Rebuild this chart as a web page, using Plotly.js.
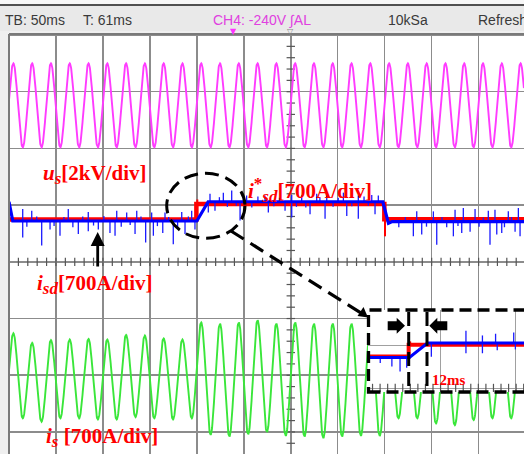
<!DOCTYPE html>
<html><head><meta charset="utf-8">
<script src="https://cdn.plot.ly/plotly-3.0.1.min.js"></script>
<style>html,body{margin:0;padding:0;background:#efefef;overflow:hidden}#chart{width:524px;height:454px}</style>
</head><body><div id="chart"></div>
<script>
// ===== data (time in ms, vertical values in scope divisions) =====
const halfPeriodMs = 10;
const firstPeakMs = 4.6;
// u_s (CH magenta): peak / trough per cycle
const usPeaks   = [3.50,3.50,3.50,3.50,3.50,3.50,3.50,3.50,3.50,3.50,3.50,3.50,3.50,3.50,3.50,3.50,3.50,3.50,3.50,3.50,3.50,3.50,3.50,3.50,3.50,3.50,3.50,3.50];
const usTroughs = [2.02,2.02,2.02,2.02,2.02,2.02,2.02,2.02,2.02,2.02,2.02,2.02,2.02,2.02,2.02,2.02,2.02,2.02,2.02,2.02,2.02,2.02,2.02,2.02,2.02,2.02,2.02,2.02];
// i_s (green): peak / trough per cycle
const isPeaks   = [-1.26,-1.43,-1.38,-1.37,-1.36,-1.37,-1.29,-1.30,-1.35,-1.37,-1.07,-1.09,-1.07,-1.03,-1.09,-1.07,-1.09,-1.09,-1.09,-1.08,-1.36,-1.36,-1.36,-1.36,-1.36,-1.36,-1.36,-1.36];
const isTroughs = [-2.76,-2.82,-2.76,-2.76,-2.78,-2.78,-2.74,-2.76,-2.78,-2.76,-3.05,-3.08,-3.04,-3.00,-3.07,-3.08,-3.11,-3.08,-3.07,-3.07,-2.76,-2.76,-2.85,-2.88,-2.79,-2.76,-2.76,-2.76];
// i_sd (blue) base level and spikes
const isdBaseT = [0, 4, 200, 212, 398, 404, 408, 548.3];
const isdBaseV = [1.06, 0.72, 0.72, 1.06, 1.06, 0.68, 0.71, 0.71];
const isdSpikeT = [14.6,14.6,24.2,34.8,43.7,54.3,63.1,73.8,84.4,84.4,95.1,107.5,112.9,114.7,125.3,134.2,136.0,145.5,151.9,153.7,163.7,166.1,174.9,183.9,187.4,194.5,198.0,
  212.2,214.0,219.3,228.2,237.1,246.0,253.0,272.6,276.1,293.9,301.0,301.0,311.6,320.5,327.6,336.5,338.3,356.0,359.6,371.9,371.9,386.2,389.7,393.2,
  430.5,434.1,439.4,451.8,455.4,473.1,474.9,482.0,483.7,490.9,496.2,510.3,512.1,517.4,519.3,524.6,531.6,538.8,542.3,544.1,
  19.0,29.5,48.0,58.5,68.0,78.5,90.0,101.0,119.5,129.0,140.5,158.0,170.0,179.5,191.0,
  224.0,232.5,242.0,258.5,265.0,282.0,288.0,306.0,316.0,331.0,345.0,350.5,365.0,378.0,382.5,
  415.0,422.0,444.5,461.0,466.0,478.0,500.5,505.0,527.5,535.0];
const isdSpikeV = [-0.29,0.21,0.18,-0.43,-0.15,-0.26,0.21,-0.23,-0.18,0.16,-0.15,-0.21,-0.26,0.18,0.15,-0.23,0.18,-0.38,0.15,-0.26,-0.21,0.15,-0.41,0.16,-0.23,0.18,-0.15,
  -0.19,0.14,-0.16,0.16,0.20,-0.33,0.11,0.11,-0.19,-0.16,0.12,-0.28,0.11,-0.22,0.14,-0.30,0.11,0.16,-0.25,0.11,-0.30,0.12,-0.22,0.11,
  -0.26,0.18,-0.23,0.18,-0.41,-0.26,0.21,-0.20,0.24,-0.18,0.22,0.19,-0.41,0.21,-0.23,-0.20,0.18,-0.18,0.24,-0.26,
  -0.10,0.08,-0.09,0.07,-0.11,0.08,-0.08,0.09,-0.10,-0.07,0.08,-0.09,0.07,-0.10,0.08,
  0.08,-0.09,-0.07,-0.10,0.09,-0.08,0.07,-0.09,-0.10,0.08,-0.09,0.07,-0.08,0.09,-0.07,
  -0.10,0.08,-0.09,0.08,-0.10,-0.08,-0.09,0.07,-0.10,0.08];
// i*_sd (red) reference
const isdRefT = [0, 199.5, 199.5, 399.6, 399.6, 548.3];
const isdRefV = [0.745, 0.745, 1.02, 1.02, 0.75, 0.75];
const isdRefSpikeT = [200.5, 400.3];
const isdRefSpikeV = [0.08, -0.30];
// zoomed inset (same channels, separate capture)
const zoomSpikeT = [180.7,188.4,193.8,198.2,214.5,237.4,237.4,248.3,248.3,257.0,258.1,269.0,270.1];
const zoomSpikeV = [-0.13,-0.21,-0.33,-0.24,-0.32,-0.24,0.29,-0.24,0.18,0.22,-0.17,0.25,-0.15];
// channel level markers
const channelLevels = [2.80, 0.0, -0.12, -2.01];
const channelColors = ['#ff33ff', '#ff2020', '#0000ff', '#33dd33'];

// ===== geometry helpers =====
const W = 524, H = 454, L = 9, T = 34, PW = W - L, PH = H - T;
const px = x => (x - L) / PW;
const py = y => (T + PH - y) / PH;
const xRange = [0, 548.3];
const yRange = [-3.389, 4.018];
const zxRange = [172.6, 275.8];
const zyRange = [-0.094, 1.84];

function wave(t, peaks, troughs) {
  const i = Math.floor((t - firstPeakMs) / halfPeriodMs);
  const ext = j => j < 0 ? troughs[0] : (j % 2 === 0 ? peaks[Math.min(j / 2, peaks.length - 1)] : troughs[Math.min((j - 1) / 2, troughs.length - 1)]);
  const a = ext(i), b = ext(i + 1);
  const ph = (t - (firstPeakMs + i * halfPeriodMs)) / halfPeriodMs;
  return (a + b) / 2 + (a - b) / 2 * Math.cos(Math.PI * ph);
}
function interp(TT, VV, t) {
  for (let k = 0; k < TT.length - 1; k++) {
    if (t <= TT[k + 1]) { const d = TT[k + 1] - TT[k]; return d <= 0 ? VV[k + 1] : VV[k] + (VV[k + 1] - VV[k]) * (t - TT[k]) / d; }
  }
  return VV[VV.length - 1];
}
function spikes(ts, vs, baseT, baseV) {
  const x = [], y = [];
  ts.forEach((t, k) => { const b = interp(baseT, baseV, t); x.push(t, t, null); y.push(b, b + vs[k], null); });
  return {x, y};
}

const tx = [], usY = [], isY = [];
for (let t = xRange[0]; t <= xRange[1]; t += 0.25) { tx.push(t); usY.push(wave(t, usPeaks, usTroughs)); isY.push(wave(t, isPeaks, isTroughs)); }

// axis minor ticks (scope graticule)
const tickX = [], tickY = [];
for (let t = 0; t <= xRange[1]; t += 10) tickX.push(t);
for (let v = -3.4; v <= 4.0; v += 0.2) tickY.push(+v.toFixed(2));
const zTickX = [];
for (let t = 220.6 - 45; t <= zxRange[1]; t += 5) if (t > zxRange[0]) zTickX.push(t);

const sp = spikes(isdSpikeT, isdSpikeV, isdBaseT, isdBaseV);
const spR = spikes(isdRefSpikeT, isdRefSpikeV, isdRefT, isdRefV);
const spZ = spikes(zoomSpikeT, zoomSpikeV, isdBaseT, isdBaseV);

const tickMk = {symbol: 'line-ns-open', size: 6, color: '#555', line: {color: '#555', width: 1.2}};
const traces = [
  {x: tickX, y: tickX.map(() => 0), mode: 'markers', marker: tickMk, hoverinfo: 'skip'},
  {x: tickY.map(() => 300), y: tickY, mode: 'markers', marker: Object.assign({}, tickMk, {symbol: 'line-ew-open'}), hoverinfo: 'skip'},
  {x: tx, y: isY, mode: 'lines', line: {color: '#3ae63a', width: 1.9}},
  {x: tx, y: usY, mode: 'lines', line: {color: '#ff3cff', width: 1.9}},
  {x: isdRefT, y: isdRefV, mode: 'lines', line: {color: '#ff0000', width: 4.5}},
  {x: spR.x, y: spR.y, mode: 'lines', line: {color: '#ff0000', width: 2}},
  {x: sp.x, y: sp.y, mode: 'lines', line: {color: '#1a1aff', width: 1.3}},
  {x: isdBaseT, y: isdBaseV, mode: 'lines', line: {color: '#0000ff', width: 3.2}},
  {x: channelLevels.map(() => -4.3), y: channelLevels, mode: 'markers', cliponaxis: false, marker: {symbol: 'triangle-right', size: 7, color: channelColors}},
  // inset
  {x: zTickX, y: zTickX.map(() => 0), xaxis: 'x2', yaxis: 'y2', mode: 'markers', marker: tickMk},
  {x: isdRefT, y: isdRefV, xaxis: 'x2', yaxis: 'y2', mode: 'lines', line: {color: '#ff0000', width: 4}},
  {x: spR.x, y: spR.y, xaxis: 'x2', yaxis: 'y2', mode: 'lines', line: {color: '#ff0000', width: 2}},
  {x: spZ.x, y: spZ.y, xaxis: 'x2', yaxis: 'y2', mode: 'lines', line: {color: '#1a1aff', width: 1.3}},
  {x: isdBaseT, y: isdBaseV, xaxis: 'x2', yaxis: 'y2', mode: 'lines', line: {color: '#0000ff', width: 3}}
];

const gridC = '#8c8c8c';
const red = '#ff0000';
const serif = {family: 'Liberation Serif, Times New Roman, serif', size: 21, color: red};
const stat = {family: 'Liberation Sans, Arial, sans-serif', size: 14, color: '#3a3a3a'};
const SUB = s => `<sub><span style="font-size:17px"><i>${s}</i></span></sub>`;
const SUP = s => `<sup><span style="font-size:17px">${s}</span></sup>`;
function ann(x, y, text, font, extra) {
  return Object.assign({xref: 'paper', yref: 'paper', x: px(x), y: py(y), text, font, showarrow: false, xanchor: 'left', yanchor: 'middle'}, extra || {});
}
const blockArrowR = (x0, xm, x1, yc) => `M${px(x0)},${py(yc - 4.5)} L${px(xm)},${py(yc - 4.5)} L${px(xm)},${py(yc - 8)} L${px(x1)},${py(yc)} L${px(xm)},${py(yc + 8)} L${px(xm)},${py(yc + 4.5)} L${px(x0)},${py(yc + 4.5)} Z`;

const layout = {
  width: W, height: H,
  margin: {l: L, r: 0, t: T, b: 0, pad: 0},
  paper_bgcolor: '#efefef', plot_bgcolor: '#ffffff',
  showlegend: false,
  xaxis: {range: xRange, tick0: 0, dtick: 50, showgrid: true, gridcolor: gridC, gridwidth: 1.5, showticklabels: false, ticks: '', zeroline: false, showline: false, fixedrange: true},
  yaxis: {range: yRange, tick0: 0, dtick: 1, showgrid: true, gridcolor: gridC, gridwidth: 1.5, showticklabels: false, ticks: '', zeroline: false, showline: false, fixedrange: true},
  xaxis2: {domain: [px(368), 1], anchor: 'y2', range: zxRange, tickvals: [220.6, 245.4, 270.2], showgrid: true, gridcolor: '#a0a0a0', gridwidth: 1, showticklabels: false, ticks: '', zeroline: false, showline: false},
  yaxis2: {domain: [py(392), py(310)], anchor: 'x2', range: zyRange, tickvals: [0, 1], showgrid: true, gridcolor: '#a0a0a0', gridwidth: 1, showticklabels: false, ticks: '', zeroline: false, showline: false},
  shapes: [
    // status bar
    {type: 'rect', xref: 'paper', yref: 'paper', x0: px(0), x1: px(W), y0: py(31), y1: py(5), fillcolor: '#e9e9e9', line: {width: 0}, layer: 'below'},
    {type: 'rect', xref: 'paper', yref: 'paper', x0: px(0), x1: px(W), y0: py(5), y1: py(0), fillcolor: '#f7f7f7', line: {width: 0}, layer: 'below'},
    {type: 'line', xref: 'paper', yref: 'paper', x0: px(0), x1: px(W), y0: py(5), y1: py(5), line: {color: '#505050', width: 2}},
    // frame
    {type: 'line', xref: 'paper', yref: 'paper', x0: px(9), x1: px(9), y0: py(34), y1: py(454), line: {color: '#7a7a7a', width: 2}},
    {type: 'line', xref: 'paper', yref: 'paper', x0: px(9), x1: px(W), y0: py(34), y1: py(34), line: {color: '#7a7a7a', width: 2}},
    // inset background
    {type: 'rect', xref: 'x2', yref: 'y2', x0: zxRange[0], x1: zxRange[1], y0: zyRange[0], y1: zyRange[1], fillcolor: '#ffffff', line: {width: 0}, layer: 'below'},
    // dashed ellipse
    {type: 'circle', xref: 'paper', yref: 'paper', x0: px(166.7), x1: px(245), y0: py(238.3), y1: py(173.3), line: {color: '#000', width: 3, dash: '14px,7px'}},
    // connector
    {type: 'line', xref: 'paper', yref: 'paper', x0: px(231), y0: py(231), x1: px(361), y1: py(313), line: {color: '#000', width: 3.2, dash: '15px,8px'}},
    {type: 'path', xref: 'paper', yref: 'paper', path: `M${px(368)},${py(317.5)} L${px(357.5)},${py(316)} L${px(363.5)},${py(307)} Z`, fillcolor: '#000', line: {width: 0}},
    // inset dashed box
    {type: 'rect', xref: 'paper', yref: 'paper', x0: px(368.5), x1: px(532), y0: py(392), y1: py(310), line: {color: '#000', width: 3.3, dash: '12px,6px'}, layer: 'above'},
    // 12 ms markers
    {type: 'line', xref: 'paper', yref: 'paper', x0: px(408.7), x1: px(408.7), y0: py(312), y1: py(386), line: {color: '#000', width: 3, dash: '14px,6px'}},
    {type: 'line', xref: 'paper', yref: 'paper', x0: px(427), x1: px(427), y0: py(312), y1: py(386), line: {color: '#000', width: 3, dash: '14px,6px'}},
    {type: 'path', xref: 'paper', yref: 'paper', path: blockArrowR(387.7, 396.7, 405, 325.8), fillcolor: '#000', line: {width: 0}},
    {type: 'path', xref: 'paper', yref: 'paper', path: blockArrowR(447.3, 437.3, 429.3, 325.8), fillcolor: '#000', line: {width: 0}}
  ],
  annotations: [
    ann(3, 20, 'TB: 50ms', stat),
    ann(81, 20, 'T: 61ms', stat),
    ann(211, 20, 'CH4: -240V ∫AL', Object.assign({}, stat, {color: '#e040e0'})),
    ann(386, 20, '10kSa', stat),
    ann(476, 20, 'Refresh', stat),
    ann(233.5, 31, '▼', {size: 8, color: '#ff33ff', family: 'DejaVu Sans'}, {xanchor: 'center'}),
    ann(290.5, 31, '▽', {size: 8, color: '#888', family: 'DejaVu Sans'}, {xanchor: 'center'}),
    ann(41, 174, `<b><i>u</i>${SUB('s')}[2kV/div]</b>`, serif),
    ann(35, 284, `<b><i>i</i>${SUB('sd')}[700A/div]</b>`, serif),
    ann(246, 190, `<b><i>i</i>${SUP('*')}${SUB('sd')}[700A/div]</b>`, serif),
    ann(44, 437, `<b><i>i</i>${SUB('s')} [700A/div]</b>`, serif),
    ann(430, 380, '<b>12ms</b>', Object.assign({}, serif, {size: 15})),
    {xref: 'paper', yref: 'paper', x: px(97.7), y: py(232), ax: 0, ay: 36, text: '', showarrow: true, arrowhead: 2, arrowsize: 1, arrowwidth: 2.8, arrowcolor: '#000'}
  ]
};

Plotly.newPlot('chart', traces, layout, {staticPlot: true, displayModeBar: false});
</script>
</body></html>
